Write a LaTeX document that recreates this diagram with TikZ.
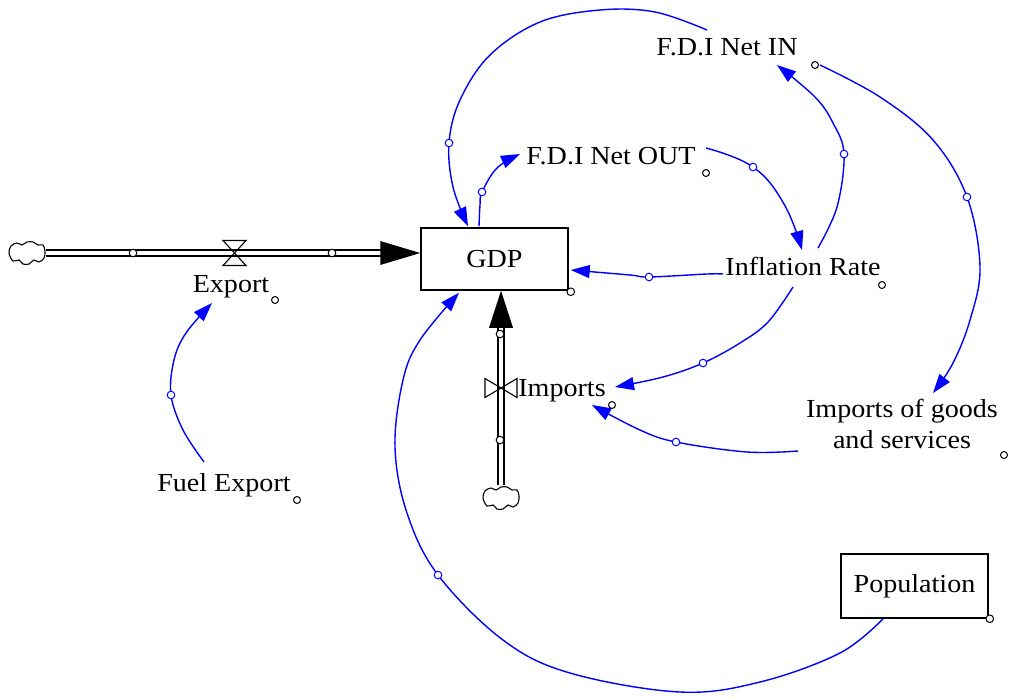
\documentclass[tikz,border=0pt]{standalone}
\usepackage{fontspec}
\setmainfont{Liberation Serif}
\newfontfamily\vfont[FakeStretch=1.08]{Liberation Serif}
\usetikzlibrary{arrows.meta}
\begin{document}
\begin{tikzpicture}[x=1pt,y=-1pt,
  lbl/.style={font=\vfont\fontsize{26}{31}\selectfont, inner sep=0pt, anchor=base},
  stockbox/.style={draw, line width=1.5pt, minimum width=147pt, minimum height=62pt, inner sep=0pt, font=\vfont\fontsize{26}{31}\selectfont},
  link/.style={draw=blue, line width=1.4pt, -{Triangle[length=19pt,width=13pt]}},
  pipe/.style={line width=1.4pt, double distance=4.5pt, double=white},
  handle/.style={draw=black, fill=white, line width=1pt},
  bhandle/.style={draw=blue, fill=white, line width=1pt},
  valvestyle/.style={draw=black, line width=1.1pt},
  srccloud/.pic={\draw[line width=1.1pt] plot[smooth cycle, tension=0.6] coordinates {(-18,0) (-16,-7) (-10,-10) (-5,-8) (0,-11) (6,-11) (11,-8) (16,-8) (18,-2) (17,5) (12,9) (7,7) (2,11) (-4,11) (-8,7) (-14,8)};}
]
\useasboundingbox (0,0) rectangle (1011,697);

% stocks
\node[stockbox] (gdp) at (494.5,259) {GDP};
\node[stockbox, minimum height=64pt] (pop) at (914.5,586) {Population};

% variables
\node[lbl] (export) at (231,292) {Export};
\node[lbl] (fuel) at (224,491) {Fuel Export};
\node[lbl] (imports) at (562,396) {Imports};
\node[lbl] (infl) at (803,275) {Inflation Rate};
\node[lbl] (fdiout) at (611,164) {F.D.I Net OUT};
\node[lbl] (fdiin) at (727,55) {F.D.I Net IN};
\node[lbl, anchor=center, align=center] (impgs) at (902,423.5) {Imports of goods\\and services};

% clouds
\coordinate (cl1) at (27,253);
\coordinate (cl2) at (501,498);
\pic at (cl1) {srccloud};
\pic at (cl2) {srccloud};

% export flow
\coordinate (expin) at (gdp.west |- cl1);
\draw[pipe] ([shift={(19,0)}]cl1) -- ([shift={(-39,0)}]expin);
\fill (expin) -- ++(-40,-12) -- ++(0,24) -- cycle;
\coordinate (vexp) at (234.5,253);
\draw[valvestyle] (vexp) ++(-11.5,-12.5) -- ++(23,0) -- ++(-23,25) -- ++(23,0) -- cycle;
\draw[handle] (133,253) circle[radius=3.8pt];
\draw[handle] (332,253) circle[radius=3.8pt];

% imports flow
\coordinate (impin) at (gdp.south -| cl2);
\draw[pipe] ([shift={(0,-13)}]cl2) -- ([shift={(0,36)}]impin);
\fill (impin) -- ++(-12,37) -- ++(24,0) -- cycle;
\coordinate (vimp) at (501,388);
\draw[valvestyle] (vimp) ++(-16,-9.5) -- ++(0,19) -- ++(32,-19) -- ++(0,19) -- cycle;
\draw[handle] (500,334) circle[radius=3.8pt];
\draw[handle] (500,440) circle[radius=3.8pt];

% links
\draw[link] plot[smooth, tension=0.6] coordinates {([shift={(-20,-29)}]fuel.base) (183,430) (171,395) (174,360) (186,333) ([shift={(-19,11)}]export.base)};
\draw[link] plot[smooth, tension=0.6] coordinates {([shift={(-20,-25)}]fdiin.base) (655,12) (600,10) (540,22) (490,55) (460,100) (449,143) (453,187) ([shift={(-26.5,-1)}]gdp.north)};
\draw[link] plot[smooth, tension=0.6] coordinates {([shift={(-15.5,-1)}]gdp.north) (480,205) (482,192) (497,168) ([shift={(-91,-10)}]fdiout.base)};
\draw[link] plot[smooth, tension=0.7] coordinates {([shift={(95,-16)}]fdiout.base) (753,167) (784,204) ([shift={(-1,-25)}]infl.base)};
\draw[link] plot[smooth, tension=0.6] coordinates {([shift={(15,-27)}]infl.base) (837,207) (844,154) (833,123) (815,97) ([shift={(50,10)}]fdiin.base)};
\draw[link] plot[smooth, tension=0.6] coordinates {([shift={(93,10)}]fdiin.base) (880,97) (933,140) (967,197) (980,267) (970,320) (953,363) ([shift={(31,-30.5)}]impgs.center)};
\draw[link] plot[smooth, tension=0.6] coordinates {([shift={(-80,-1)}]infl.base) (707,274) (649,277) (630,275) ([shift={(2,11)}]gdp.east)};
\draw[link] plot[smooth, tension=0.6] coordinates {([shift={(-10,12)}]infl.base) (768,322) (740,343) (703,363) (663,377) ([shift={(53,-9)}]imports.base)};
\draw[link] plot[smooth, tension=0.6] coordinates {([shift={(-104,27.5)}]impgs.center) (747,452) (676,442) (640,430) ([shift={(30,9)}]imports.base)};
\draw[link] plot[smooth, tension=0.6] coordinates {([shift={(-31.5,0)}]pop.south) (840,653) (760,682) (680,692) (570,673) (503,640) (438,575) (407,513) (395,447) (403,380) (420,340) ([shift={(-35.5,2)}]gdp.south)};

% link handles
\foreach \p in {(171,395),(449,143),(482,192),(753,167),(844,154),(967,197),(649,277),(703,363),(676,442),(438,575)}
  \draw[bhandle] \p circle[radius=3.8pt];

% variable handles
\draw[handle] ([shift={(44,8)}]export.base) circle[radius=3.5pt];
\draw[handle] ([shift={(73,9)}]fuel.base) circle[radius=3.5pt];
\draw[handle] ([shift={(50,9)}]imports.base) circle[radius=3.5pt];
\draw[handle] ([shift={(79,10)}]infl.base) circle[radius=3.5pt];
\draw[handle] ([shift={(95,9)}]fdiout.base) circle[radius=3.5pt];
\draw[handle] ([shift={(88,10)}]fdiin.base) circle[radius=3.5pt];
\draw[handle] ([shift={(102,31.5)}]impgs.center) circle[radius=3.5pt];
\draw[handle] ([shift={(2,1)}]gdp.south east) circle[radius=3.8pt];
\draw[handle] ([shift={(1,0)}]pop.south east) circle[radius=3.8pt];
\end{tikzpicture}
\end{document}
